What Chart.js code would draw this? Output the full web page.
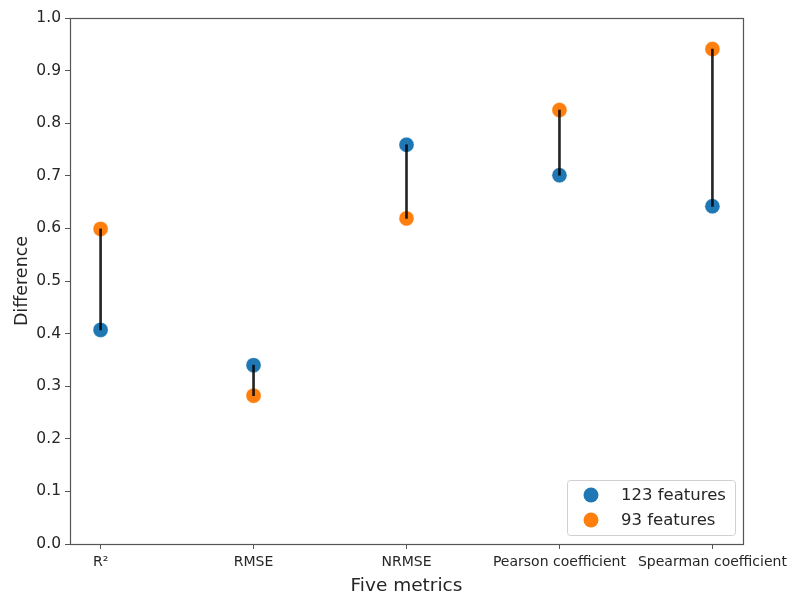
<!DOCTYPE html>
<html><head><meta charset="utf-8">
<script src="https://cdn.jsdelivr.net/npm/chart.js@4/dist/chart.umd.min.js"></script>
<style>html,body{margin:0;padding:0;background:#fff}#wrap{width:792px;height:592px}</style>
</head><body><div id="wrap"><canvas id="c" width="792" height="592"></canvas></div>
<script>
const categories = ["R²", "RMSE", "NRMSE", "Pearson coefficient", "Spearman coefficient"];
const features123 = [0.407, 0.340, 0.759, 0.701, 0.642];
const features93 = [0.599, 0.282, 0.619, 0.825, 0.941];
const yTicks = [0.0, 0.1, 0.2, 0.3, 0.4, 0.5, 0.6, 0.7, 0.8, 0.9, 1.0];
const seriesNames = ["123 features", "93 features"];

const FONT = "'DejaVu Sans', sans-serif";
const TXT = "#262626";
const EDGE = "#555";

const pts = (arr) => arr.map((v, i) => ({x: i, y: v}));
const ranges = categories.map((c, i) => ({x: i, y: [Math.min(features123[i], features93[i]), Math.max(features123[i], features93[i])]}));

const frame = {
  id: 'frame',
  afterDraw(chart) {
    const {ctx, chartArea: a} = chart;
    ctx.save();
    ctx.strokeStyle = EDGE; ctx.lineWidth = 1.2;
    ctx.strokeRect(a.left + 0.5, a.top + 0.5, a.right - a.left, a.bottom - a.top);
    // legend box inside chart area, bottom right
    const bw = 168, bh = 55;
    const bx = a.right - 8 - bw, by = a.bottom - 9 - bh;
    ctx.fillStyle = 'rgba(255,255,255,0.8)';
    ctx.strokeStyle = '#d0d0d0'; ctx.lineWidth = 1;
    ctx.beginPath();
    if (ctx.roundRect) ctx.roundRect(bx + 0.5, by + 0.5, bw, bh, 3); else ctx.rect(bx + 0.5, by + 0.5, bw, bh);
    ctx.fill(); ctx.stroke();
    const cols = [chart.data.datasets[1].backgroundColor, chart.data.datasets[2].backgroundColor];
    ctx.font = "16.5px " + FONT; ctx.textBaseline = 'middle'; ctx.textAlign = 'left';
    seriesNames.forEach((n, i) => {
      const cy = by + 15 + i * 25;
      ctx.fillStyle = cols[i];
      ctx.beginPath(); ctx.arc(bx + 24, cy, 7.5, 0, Math.PI * 2); ctx.fill();
      ctx.fillStyle = TXT;
      ctx.fillText(n, bx + 54, cy + 1);
    });
    ctx.restore();
  }
};

new Chart(document.getElementById('c'), {
  type: 'scatter',
  data: {
    datasets: [
      {type: 'bar', label: 'range', data: ranges, backgroundColor: 'rgba(0,0,0,0.85)', barThickness: 2, order: 0},
      {label: seriesNames[0], data: pts(features123), backgroundColor: '#1f77b4', borderColor: 'rgba(255,255,255,0.6)', borderWidth: 0.5, pointRadius: 7.5, pointHoverRadius: 7.5, order: 2},
      {label: seriesNames[1], data: pts(features93), backgroundColor: '#ff7f0e', borderColor: 'rgba(255,255,255,0.6)', borderWidth: 0.5, pointRadius: 7.5, pointHoverRadius: 7.5, order: 1}
    ]
  },
  options: {
    responsive: false, animation: false,
    layout: {padding: {left: 0, right: 49, top: 18, bottom: 0}},
    plugins: {legend: {display: false}, tooltip: {enabled: false}},
    scales: {
      x: {
        type: 'linear', min: -0.2, max: 4.2, offset: false,
        afterBuildTicks: (s) => { s.ticks = categories.map((c, i) => ({value: i})); },
        afterFit: (s) => { s.height = 48; s.paddingLeft = 0; s.paddingRight = 0; },
        ticks: {callback: (v) => categories[v], font: {family: FONT, size: 14}, color: TXT, padding: 5, maxRotation: 0, autoSkip: false},
        grid: {display: true, offset: false, drawOnChartArea: false, tickLength: 5, color: EDGE},
        border: {display: false},
        title: {display: true, text: 'Five metrics', font: {family: FONT, size: 18.5, lineHeight: 1}, color: TXT, padding: {top: 0, bottom: -3}}
      },
      y: {
        min: 0, max: 1,
        afterBuildTicks: (s) => { s.ticks = yTicks.map(v => ({value: v})); },
        afterFit: (s) => { s.width = 70; },
        ticks: {callback: (v) => v.toFixed(1), font: {family: FONT, size: 15.5}, color: TXT, padding: 4},
        grid: {display: true, drawOnChartArea: false, tickLength: 5, color: EDGE},
        border: {display: false},
        title: {display: true, text: 'Difference', font: {family: FONT, size: 17.5}, color: TXT, padding: {top: 12, bottom: 0}}
      }
    }
  },
  plugins: [frame]
});
</script></body></html>
